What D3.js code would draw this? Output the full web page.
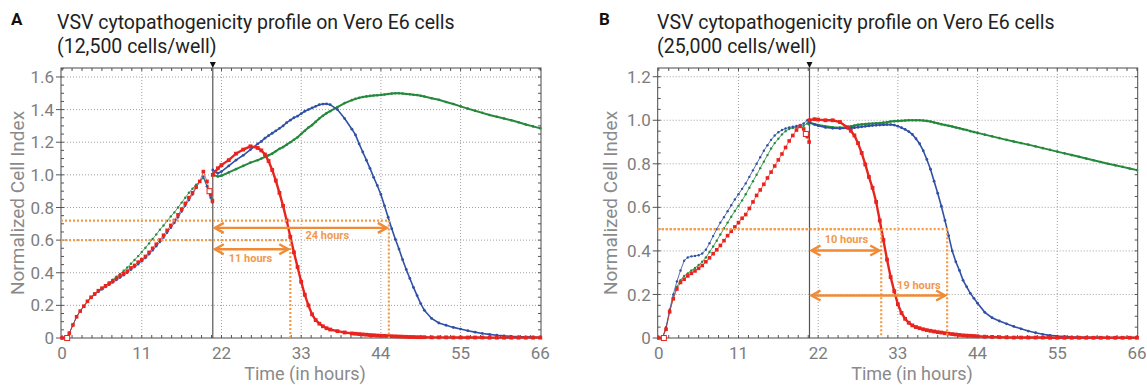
<!DOCTYPE html>
<html>
<head>
<meta charset="utf-8">
<script src="https://cdn.jsdelivr.net/npm/d3@7"></script>
<style>
  body { margin: 0; background: #fff; font-family: Roboto, "Noto Sans", sans-serif; }
</style>
</head>
<body>
<div id="chart"></div>
<script>
// ---- Data ----
const xTicks = [0, 11, 22, 33, 44, 55, 66];
const yTicksA = [0, 0.2, 0.4, 0.6, 0.8, 1.0, 1.2, 1.4, 1.6];
const yTicksB = [0, 0.2, 0.4, 0.6, 0.8, 1.0, 1.2];
const infectionTime = 20.8;

// hours before the virus is added (same sampling in both panels)
const hoursPre = [0,0.5,1,1.5,2,2.5,3,3.5,4,4.5,5,5.5,6,6.5,7,7.5,8,8.5,9,9.5,10,10.5,11,11.5,12,12.5,13,13.5,14,14.5,15,15.5,16,16.5,17,17.5,18,18.5,19,19.5,20,20.5,20.75];

// Panel A: 12,500 cells/well
const greenPreA = [0,0,0.03,0.08,0.13,0.165,0.195,0.225,0.25,0.27,0.29,0.307,0.323,0.34,0.357,0.375,0.393,0.412,0.432,0.455,0.478,0.502,0.527,0.553,0.58,0.607,0.635,0.664,0.69,0.718,0.745,0.77,0.8,0.83,0.86,0.89,0.915,0.94,0.96,0.98,0.93,0.87,0.85];
const bluePreA = [0,0,0.03,0.08,0.13,0.165,0.195,0.222,0.245,0.265,0.283,0.298,0.312,0.326,0.34,0.355,0.37,0.385,0.4,0.418,0.435,0.452,0.47,0.49,0.513,0.537,0.562,0.588,0.615,0.645,0.675,0.705,0.74,0.775,0.81,0.845,0.88,0.92,0.96,0.99,0.93,0.86,0.83];
const redPreA = [0,0,0.03,0.08,0.13,0.165,0.195,0.225,0.25,0.27,0.29,0.305,0.32,0.335,0.35,0.365,0.38,0.395,0.41,0.43,0.445,0.465,0.48,0.5,0.525,0.55,0.575,0.6,0.63,0.66,0.69,0.72,0.755,0.79,0.825,0.86,0.89,0.925,0.96,1.02,0.96,0.88,0.84];

const hoursPostA = [20.8,21.5,22,23,24,25,26,27,27.5,28,28.5,29,29.5,30,30.5,31,31.5,32,32.5,33,33.5,34,34.5,35,35.5,36,36.5,37,38,39,40,40.5,41,41.5,42,42.5,43,43.5,44,44.5,45,45.5,46,46.5,47,47.5,48,48.5,49,49.5,50,51,52,53,54,55,56,57,58,59,60,61,62,63,64,65,66];
const greenPostA = [1.0,0.99,0.995,1.015,1.035,1.055,1.075,1.09,1.1,1.11,1.12,1.13,1.145,1.16,1.17,1.185,1.2,1.215,1.23,1.25,1.27,1.29,1.305,1.325,1.345,1.362,1.378,1.39,1.415,1.44,1.458,1.466,1.472,1.477,1.481,1.484,1.486,1.488,1.49,1.493,1.496,1.498,1.5,1.5,1.498,1.496,1.494,1.491,1.489,1.485,1.48,1.47,1.46,1.447,1.434,1.42,1.406,1.393,1.38,1.367,1.356,1.345,1.335,1.322,1.309,1.297,1.285];
const bluePostA = [1.03,1.01,1.02,1.055,1.09,1.12,1.155,1.19,1.205,1.225,1.24,1.255,1.27,1.285,1.3,1.32,1.335,1.35,1.36,1.375,1.39,1.4,1.41,1.42,1.43,1.434,1.435,1.43,1.4,1.345,1.28,1.245,1.19,1.14,1.09,1.04,0.985,0.935,0.88,0.81,0.74,0.67,0.605,0.545,0.48,0.42,0.365,0.31,0.26,0.211,0.17,0.12,0.092,0.078,0.065,0.055,0.045,0.036,0.028,0.022,0.017,0.013,0.01,0.008,0.007,0.006,0.005];
const redPostA = [1.0,1.04,1.06,1.09,1.13,1.155,1.175,1.165,1.15,1.125,1.085,1.03,0.965,0.89,0.81,0.72,0.62,0.525,0.435,0.345,0.265,0.2,0.145,0.11,0.088,0.072,0.06,0.052,0.042,0.034,0.028,0.026,0.024,0.022,0.02,0.018,0.017,0.015,0.014,0.013,0.012,0.011,0.01,0.009,0.008,0.007,0.006,0.006,0.005,0.005,0.005,0.004,0.004,0.004,0.003,0.003,0.003,0.003,0.003,0.002,0.002,0.002,0.002,0.002,0.002,0.002,0.002];
const hollowA = [[0.7, 0], [20.35, 0.9]];

const levelsA = [0.6, 0.72];
const crossA = [31.5, 45.1];
const labelsA = ["11 hours", "24 hours"];

// Panel B: 25,000 cells/well
const greenPreB = [0,0,0.045,0.12,0.185,0.235,0.265,0.285,0.297,0.31,0.322,0.335,0.35,0.37,0.395,0.42,0.447,0.475,0.503,0.53,0.557,0.583,0.607,0.632,0.66,0.69,0.72,0.75,0.78,0.81,0.84,0.87,0.895,0.915,0.935,0.95,0.96,0.965,0.968,0.97,0.975,0.985,0.98];
const bluePreB = [0,0,0.05,0.13,0.2,0.26,0.31,0.355,0.37,0.375,0.377,0.38,0.388,0.405,0.435,0.468,0.5,0.53,0.555,0.582,0.61,0.636,0.66,0.685,0.71,0.74,0.77,0.8,0.83,0.86,0.885,0.91,0.93,0.945,0.955,0.962,0.967,0.97,0.974,0.978,0.985,1.0,0.99];
const redPreB = [0,0,0.04,0.12,0.18,0.225,0.255,0.27,0.285,0.297,0.308,0.32,0.333,0.35,0.368,0.387,0.405,0.425,0.447,0.47,0.49,0.51,0.53,0.55,0.567,0.595,0.625,0.655,0.68,0.706,0.735,0.762,0.79,0.818,0.845,0.875,0.905,0.93,0.955,0.972,0.96,0.925,0.9];

const hoursPostB = [20.8,21.5,22,23,24,25,26,26.5,27,27.5,28,28.5,29,29.5,30,30.5,31,31.5,32,32.5,33,33.5,34,34.5,35,35.5,36,36.5,37,37.5,38,38.5,39,39.5,40,40.5,41,41.5,42,42.5,43,43.5,44,45,46,47,48,49,50,51,52,53,54,55,56,57,58,59,60,61,62,63,64,65,66];
const greenPostB = [0.99,0.982,0.978,0.972,0.968,0.966,0.968,0.972,0.976,0.979,0.981,0.983,0.984,0.985,0.986,0.987,0.989,0.991,0.994,0.996,0.997,0.998,0.999,1.0,1.0,1.0,1.0,0.999,0.997,0.994,0.99,0.986,0.982,0.978,0.975,0.971,0.967,0.963,0.959,0.955,0.95,0.946,0.942,0.934,0.926,0.918,0.91,0.902,0.895,0.888,0.88,0.872,0.864,0.856,0.848,0.84,0.832,0.824,0.816,0.808,0.8,0.793,0.786,0.778,0.771];
const bluePostB = [0.99,0.98,0.975,0.967,0.963,0.962,0.963,0.964,0.966,0.968,0.97,0.972,0.974,0.976,0.977,0.978,0.979,0.98,0.98,0.978,0.973,0.966,0.958,0.948,0.935,0.915,0.892,0.86,0.82,0.775,0.72,0.665,0.605,0.54,0.47,0.4,0.35,0.31,0.265,0.235,0.205,0.182,0.16,0.118,0.093,0.078,0.065,0.053,0.042,0.032,0.024,0.017,0.012,0.009,0.007,0.005,0.004,0.003,0.003,0.003,0.002,0.002,0.002,0.002,0.002];
const redPostB = [1.0,1.005,1.003,1.0,1.0,0.992,0.968,0.952,0.93,0.895,0.85,0.797,0.74,0.69,0.625,0.54,0.45,0.36,0.28,0.215,0.155,0.115,0.088,0.07,0.058,0.05,0.045,0.04,0.036,0.033,0.03,0.027,0.025,0.022,0.02,0.018,0.016,0.014,0.012,0.011,0.01,0.009,0.008,0.006,0.005,0.004,0.003,0.002,0.002,0.002,0.002,0.002,0.001,0.001,0.001,0.001,0.001,0.001,0.001,0.001,0.001,0.001,0.001,0.001,0.001];
const hollowB = [[0.7, 0], [20.3, 0.937]];

const levelsB = [0.5, 0.5];
const crossB = [30.7, 39.8];
const labelsB = ["10 hours", "19 hours"];

// ---- Drawing ----
const width = 1147, height = 385;
const colors = { green: "#24893b", blue: "#3050a5", red: "#e8241f" };
const orange = "#f08a35";
const gray = "#7d7d7d";

const svg = d3.select("#chart").append("svg")
  .attr("width", width).attr("height", height);

function drawPanel(p) {
  const x = d3.scaleLinear().domain([-0.15, 66.1]).range([p.left, p.left + 480]);
  const y = d3.scaleLinear().domain([0, p.yTop]).range([338, 68]);
  const [x0, x1] = x.range();
  const [yb, yt] = y.range();
  const g = svg.append("g");

  // Titles
  g.append("text").attr("x", p.letterX).attr("y", 25)
    .attr("font-size", 17).attr("font-weight", "bold").attr("fill", "#111")
    .text(p.letter);
  g.append("text").attr("x", p.titleX).attr("y", 29)
    .attr("font-size", 19.5).attr("fill", "#222")
    .text("VSV cytopathogenicity profile on Vero E6 cells");
  g.append("text").attr("x", p.titleX).attr("y", 53)
    .attr("font-size", 19.5).attr("fill", "#222")
    .text(p.subtitle);

  // Grid
  g.append("g").selectAll("line")
    .data(xTicks.filter((d) => d > 0 && d < 66))
    .join("line")
    .attr("x1", (d) => x(d)).attr("x2", (d) => x(d))
    .attr("y1", yt).attr("y2", yb)
    .attr("stroke", "#a0a0a0").attr("stroke-dasharray", "1,2");
  g.append("g").selectAll("line")
    .data(p.yTicks.filter((d) => d > 0))
    .join("line")
    .attr("x1", x0).attr("x2", x1)
    .attr("y1", (d) => y(d)).attr("y2", (d) => y(d))
    .attr("stroke", "#a0a0a0").attr("stroke-dasharray", "1,2");

  // Minor ticks on all four sides
  const xMinor = d3.range(0, 66.001, 11 / 8);
  const yMinor = d3.range(0, p.yTop, 0.05);
  const tickColor = "#555";
  g.append("g").selectAll("line").data(xMinor).join("line")
    .attr("x1", (d) => x(d)).attr("x2", (d) => x(d))
    .attr("y1", yb).attr("y2", yb - 3).attr("stroke", tickColor);
  g.append("g").selectAll("line").data(xMinor).join("line")
    .attr("x1", (d) => x(d)).attr("x2", (d) => x(d))
    .attr("y1", yt).attr("y2", yt + 3).attr("stroke", tickColor);
  g.append("g").selectAll("line").data(yMinor).join("line")
    .attr("x1", x0).attr("x2", x0 + 3)
    .attr("y1", (d) => y(d)).attr("y2", (d) => y(d)).attr("stroke", tickColor);
  g.append("g").selectAll("line").data(yMinor).join("line")
    .attr("x1", x1).attr("x2", x1 - 3)
    .attr("y1", (d) => y(d)).attr("y2", (d) => y(d)).attr("stroke", tickColor);

  // Frame
  g.append("rect").attr("x", x0).attr("y", yt)
    .attr("width", x1 - x0).attr("height", yb - yt)
    .attr("fill", "none").attr("stroke", "#4a4a4a");

  // Major ticks + labels
  g.append("g").selectAll("line").data(p.yTicks).join("line")
    .attr("x1", x0 - 5).attr("x2", x0)
    .attr("y1", (d) => y(d)).attr("y2", (d) => y(d)).attr("stroke", tickColor);
  g.append("g").selectAll("text").data(p.yTicks).join("text")
    .attr("x", x0 - 7).attr("y", (d) => y(d))
    .attr("dy", "0.36em").attr("text-anchor", "end")
    .attr("font-size", 17).attr("fill", gray)
    .text((d) => (d === 0 ? "0" : d.toFixed(1)));
  g.append("g").selectAll("text").data(xTicks).join("text")
    .attr("x", (d) => x(d)).attr("y", 358.5)
    .attr("text-anchor", "middle")
    .attr("font-size", 17).attr("fill", gray)
    .text((d) => d);

  // Axis titles
  g.append("text").attr("x", p.xTitleX).attr("y", 379.5)
    .attr("text-anchor", "middle").attr("font-size", 18).attr("fill", "#8a8a8a")
    .text("Time (in hours)");
  g.append("text")
    .attr("transform", `translate(${p.yTitleX},203) rotate(-90)`)
    .attr("text-anchor", "middle").attr("font-size", 19).attr("fill", "#8a8a8a")
    .text("Normalized Cell Index");

  // Virus addition marker
  const xi = x(infectionTime);
  g.append("line").attr("x1", xi).attr("x2", xi).attr("y1", yt).attr("y2", yb)
    .attr("stroke", "#555").attr("stroke-width", 1.2);
  g.append("path")
    .attr("d", `M${xi - 3},${yt - 6}L${xi + 3},${yt - 6}L${xi},${yt}Z`)
    .attr("fill", "#111");

  // Curves
  const line = d3.line().x((d) => x(d[0])).y((d) => y(d[1]));
  function curve(hours, vals, color, opt) {
    const pts = hours.map((h, i) => [h, vals[i]]);
    g.append("path").datum(pts).attr("d", line)
      .attr("fill", "none").attr("stroke", color)
      .attr("stroke-width", opt.lw).attr("stroke-opacity", opt.op);
    if (opt.square) {
      g.append("g").selectAll("rect").data(pts).join("rect")
        .attr("x", (d) => x(d[0]) - opt.s / 2).attr("y", (d) => y(d[1]) - opt.s / 2)
        .attr("width", opt.s).attr("height", opt.s).attr("fill", color);
    } else {
      g.append("g").selectAll("circle").data(pts).join("circle")
        .attr("cx", (d) => x(d[0])).attr("cy", (d) => y(d[1]))
        .attr("r", opt.s / 2).attr("fill", color);
    }
  }
  curve(hoursPre, p.greenPre, colors.green, { lw: 1, op: 0.8, s: 2.4 });
  curve(hoursPre, p.bluePre, colors.blue, { lw: 1, op: 0.8, s: 2.4 });
  curve(hoursPre, p.redPre, colors.red, { lw: 1, op: 0.7, s: 3.6, square: true });
  curve(p.hoursPost, p.greenPost, colors.green, { lw: 2, op: 1, s: 2.6 });
  curve(p.hoursPost, p.bluePost, colors.blue, { lw: 1.6, op: 1, s: 2.8 });
  curve(p.hoursPost, p.redPost, colors.red, { lw: 2.4, op: 1, s: 3.8, square: true });

  g.append("g").selectAll("rect").data(p.hollow).join("rect")
    .attr("x", (d) => x(d[0]) - 2.5).attr("y", (d) => y(d[1]) - 2.5)
    .attr("width", 5).attr("height", 5)
    .attr("fill", "#fff").attr("stroke", colors.red).attr("stroke-width", 1);

  // Annotations: threshold lines
  const dotted = (x1_, y1_, x2_, y2_) =>
    g.append("line").attr("x1", x1_).attr("y1", y1_).attr("x2", x2_).attr("y2", y2_)
      .attr("stroke", "#f39b45").attr("stroke-width", 2.2).attr("stroke-dasharray", "2,2");
  p.levels.forEach((lv, i) => {
    dotted(x0, y(lv), x(p.cross[i]), y(lv));
    dotted(x(p.cross[i]), y(lv), x(p.cross[i]), yb);
  });

  // Duration arrows
  p.arrows.forEach((a, i) => {
    const ay = y(a.level);
    const xa = xi + 2, xb = x(p.cross[i]) - 2;
    g.append("line").attr("x1", xa).attr("x2", xb).attr("y1", ay).attr("y2", ay)
      .attr("stroke", orange).attr("stroke-width", 2.4);
    g.append("path")
      .attr("d", `M${xa + 9},${ay - 5}L${xa},${ay}L${xa + 9},${ay + 5}M${xb - 9},${ay - 5}L${xb},${ay}L${xb - 9},${ay + 5}`)
      .attr("fill", "none").attr("stroke", orange).attr("stroke-width", 2.4);
    g.append("text").attr("x", x(a.labelHour)).attr("y", y(a.labelLevel))
      .attr("text-anchor", "middle").attr("font-size", 11).attr("font-weight", "bold")
      .attr("fill", "#f2994e").text(p.labels[i]);
  });
}

drawPanel({
  letter: "A", subtitle: "(12,500 cells/well)",
  letterX: 11, titleX: 57, left: 61, yTop: 1.655, yTicks: yTicksA,
  xTitleX: 305, yTitleX: 24,
  greenPre: greenPreA, bluePre: bluePreA, redPre: redPreA,
  hoursPost: hoursPostA, greenPost: greenPostA, bluePost: bluePostA, redPost: redPostA,
  hollow: hollowA, levels: levelsA, cross: crossA, labels: labelsA,
  arrows: [
    { level: 0.544, labelHour: 26.0, labelLevel: 0.467 },
    { level: 0.675, labelHour: 36.6, labelLevel: 0.607 }
  ]
});

drawPanel({
  letter: "B", subtitle: "(25,000 cells/well)",
  letterX: 599, titleX: 657, left: 657.7, yTop: 1.24, yTicks: yTicksB,
  xTitleX: 912, yTitleX: 617,
  greenPre: greenPreB, bluePre: bluePreB, redPre: redPreB,
  hoursPost: hoursPostB, greenPost: greenPostB, bluePost: bluePostB, redPost: redPostB,
  hollow: hollowB, levels: levelsB, cross: crossB, labels: labelsB,
  arrows: [
    { level: 0.402, labelHour: 25.9, labelLevel: 0.437 },
    { level: 0.195, labelHour: 35.9, labelLevel: 0.225 }
  ]
});
</script>
</body>
</html>
